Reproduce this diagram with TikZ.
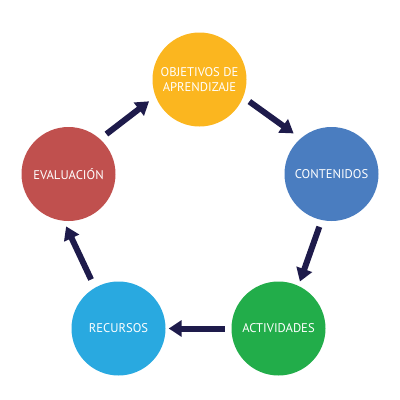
\documentclass[tikz,border=0pt]{standalone}
\usepackage{fontspec}
\setmainfont{PT Sans}
\usetikzlibrary{arrows.meta}
\definecolor{cyel}{HTML}{FBB61F}
\definecolor{cblu}{HTML}{4A7DC0}
\definecolor{cgrn}{HTML}{22AD4A}
\definecolor{clbl}{HTML}{29A9E0}
\definecolor{cred}{HTML}{C0504E}
\definecolor{carr}{HTML}{1E1B4B}
\begin{document}
\begin{tikzpicture}[x=1pt,y=-1pt,
  bubble/.style={circle,minimum size=94pt,inner sep=0pt,text=white,
    font=\fontsize{12.6}{15}\selectfont,align=center},
  arr/.style={draw=carr,line width=6pt,
    -{Triangle[width=16pt,length=13pt]},fill=carr}]
\useasboundingbox (0,0) rectangle (400,400);
\node[bubble,fill=cyel] (obj) at (199.5,79.5) {OBJETIVOS DE\\APRENDIZAJE};
\node[bubble,fill=cblu] (con) at (331.5,174) {CONTENIDOS};
\node[bubble,fill=cgrn] (act) at (278.5,328.5) {ACTIVIDADES};
\node[bubble,fill=clbl] (rec) at (118.5,328.5) {RECURSOS};
\node[bubble,fill=cred] (eva) at (68.5,174) {EVALUACIÓN};
\draw[arr,shorten <=7.5pt,shorten >=8.5pt] (obj.-22) -- (con.131);
\draw[arr,shorten <=7pt,shorten >=4.5pt] (con.-102) -- (act.65);
\draw[arr,shorten <=6.5pt,shorten >=3pt] (act.180) -- (rec.0);
\draw[arr,shorten <=9pt,shorten >=6pt] (rec.120) -- (eva.264);
\draw[arr,shorten <=8pt,shorten >=8pt] (eva.48) -- (obj.201);
\end{tikzpicture}
\end{document}
